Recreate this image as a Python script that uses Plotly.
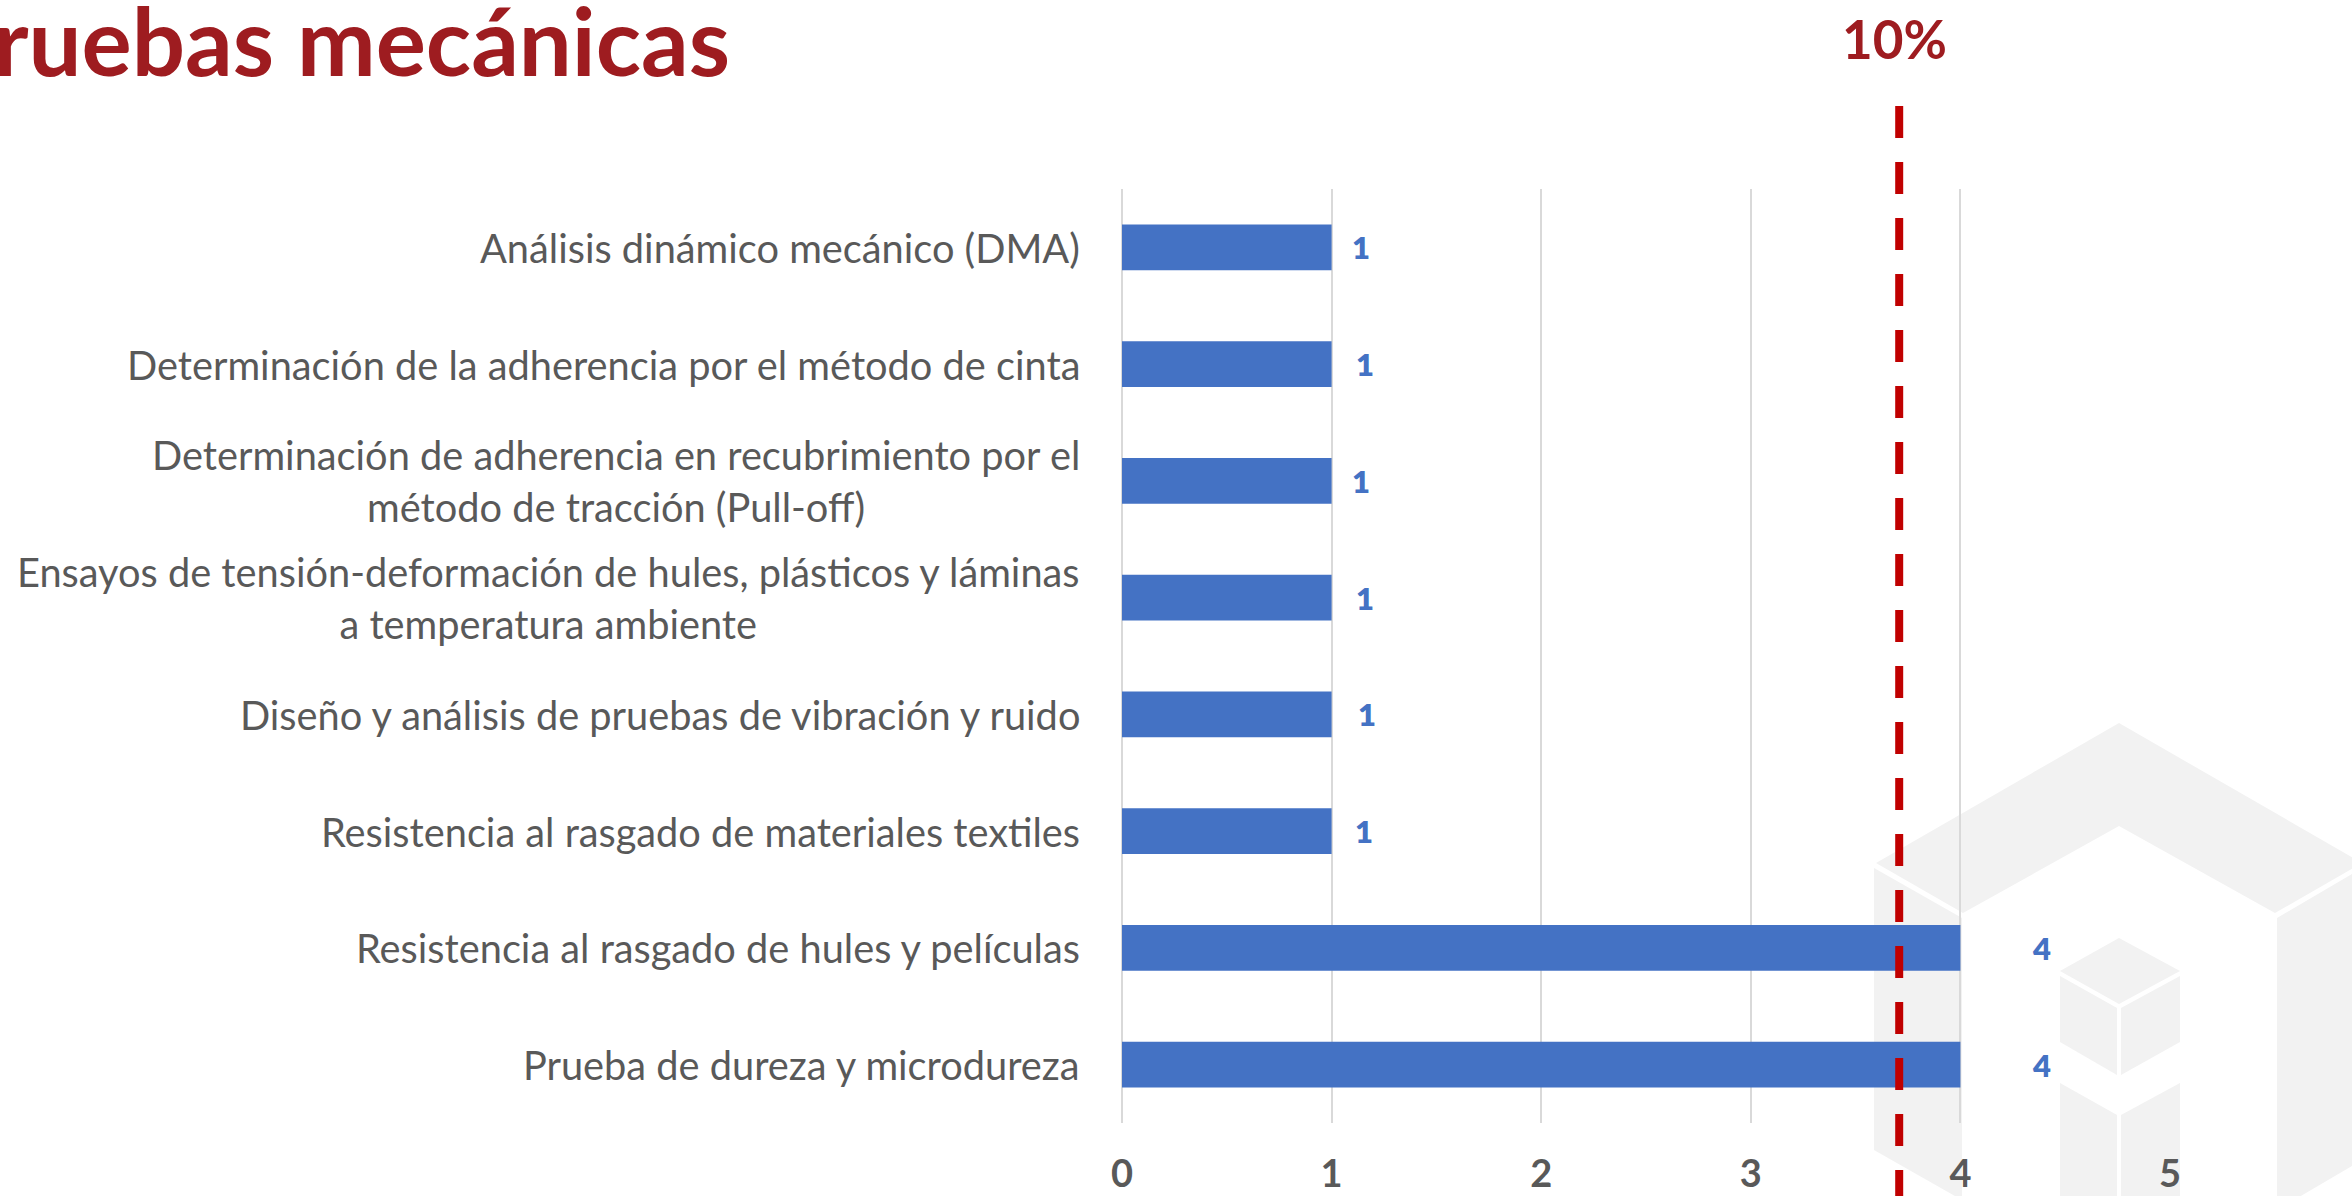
import plotly.graph_objects as go

# ---- data -------------------------------------------------------------
categorias = [
    "Análisis dinámico mecánico (DMA)",
    "Determinación de la adherencia por el método de cinta",
    "Determinación de adherencia en recubrimiento por el\nmétodo de tracción (Pull-off)",
    "Ensayos de tensión-deformación de hules, plásticos y láminas\na temperatura ambiente",
    "Diseño y análisis de pruebas de vibración y ruido",
    "Resistencia al rasgado de materiales textiles",
    "Resistencia al rasgado de hules y películas",
    "Prueba de dureza y microdureza",
]
valores = [1, 1, 1, 1, 1, 1, 4, 4]
ticks_x = [0, 1, 2, 3, 4, 5]
umbral_valor = 3.708
umbral_texto = "10%"
titulo = "Pruebas mecánicas"

# ---- styling ----------------------------------------------------------
W, H = 2352, 1196
ML, MR, MT, MB = 1122, 182, 189, 73
PW, PH = W - ML - MR, H - MT - MB

AZUL = "#4472C4"
GRIS_TXT = "#595959"
GRIS_GRID = "#D9D9D9"
ROJO_TIT = "#9E1C20"
ROJO_LINEA = "#C00000"
MARCA = "#F2F2F2"
FUENTE = "Lato"

# horizontal offset (px) of each value label from the bar end
desplaz_etiqueta = [29, 33, 29, 33, 35, 32, 81, 81]


def paper(x, y):
    """Pixel position on the canvas -> paper coordinates."""
    return (x - ML) / PW, (H - MB - y) / PH


def poligono(puntos):
    pts = [paper(x, y) for x, y in puntos]
    return "M " + " L ".join(f"{a:.5f},{b:.5f}" for a, b in pts) + " Z"


etiquetas = [c.replace("\n", "<br>") for c in categorias]

fig = go.Figure(
    go.Bar(
        x=valores,
        y=categorias,
        orientation="h",
        marker=dict(color=AZUL, line=dict(width=0)),
        hoverinfo="skip",
    )
)

# background logo made of isometric cubes (bottom right corner)
logo = [
    # hollow large cube: top chevron, left and right faces
    [(1876, 863), (2119, 723), (2362, 863), (2275, 913), (2119, 826), (1963, 913)],
    [(1874, 868), (1962, 918), (1962, 1200), (1874, 1150)],
    [(2277, 918), (2362, 868), (2362, 1160), (2277, 1210)],
    # small cube
    [(2119, 938), (2180, 971), (2119, 1004), (2060, 971)],
    [(2060, 976), (2117, 1008), (2117, 1075), (2060, 1042)],
    [(2121, 1008), (2180, 976), (2180, 1042), (2121, 1075)],
    # lower column
    [(2060, 1083), (2117, 1115), (2117, 1200), (2060, 1200)],
    [(2121, 1115), (2180, 1083), (2180, 1200), (2121, 1200)],
]
shapes = [
    dict(type="path", path=poligono(p), xref="paper", yref="paper",
         fillcolor=MARCA, line=dict(width=0), layer="below")
    for p in logo
]

# dashed reference line
shapes.append(dict(
    type="line", xref="x", yref="paper",
    x0=umbral_valor, x1=umbral_valor,
    y0=paper(0, 106)[1], y1=paper(0, 1205)[1],
    line=dict(color=ROJO_LINEA, width=8, dash="32px,24px"),
    layer="above",
))

annotations = []
# category labels, lines centred within each block
for cat, txt in zip(categorias, etiquetas):
    annotations.append(dict(
        x=0, xref="paper", y=cat, yref="y",
        xanchor="right", yanchor="middle", xshift=-40,
        text=txt, align="center", showarrow=False,
        font=dict(family=FUENTE, size=39.75, color=GRIS_TXT),
    ))

# value labels
for cat, v, dx in zip(categorias, valores, desplaz_etiqueta):
    annotations.append(dict(
        x=v, xref="x", y=cat, yref="y",
        xanchor="center", yanchor="middle", xshift=dx,
        text=str(v), showarrow=False,
        font=dict(family=FUENTE, size=31, color=AZUL, weight=800),
    ))

# threshold label
annotations.append(dict(
    x=umbral_valor, xref="x", xshift=-5,
    y=paper(0, 39)[1], yref="paper",
    xanchor="center", yanchor="middle",
    text=f"<b>{umbral_texto}</b>", showarrow=False,
    font=dict(family=FUENTE, size=53, color=ROJO_TIT),
))

# page title (runs off the left edge)
annotations.append(dict(
    x=paper(732, 0)[0], xref="paper",
    y=paper(0, 40)[1], yref="paper",
    xanchor="right", yanchor="middle",
    text=f"<b>{titulo}</b>", showarrow=False,
    font=dict(family=FUENTE, size=94, color=ROJO_TIT),
))

fig.update_layout(
    width=W, height=H,
    margin=dict(l=ML, r=MR, t=MT, b=MB, pad=0, autoexpand=False),
    paper_bgcolor="white",
    plot_bgcolor="rgba(0,0,0,0)",
    showlegend=False,
    bargap=0.606,
    shapes=shapes,
    annotations=annotations,
    xaxis=dict(
        range=[0, 5],
        tickmode="array",
        tickvals=ticks_x,
        ticktext=[str(t) for t in ticks_x],
        showgrid=True, gridcolor=GRIS_GRID, gridwidth=2,
        zeroline=True, zerolinecolor=GRIS_GRID, zerolinewidth=2,
        showline=False, ticks="",
        automargin=False,
        ticklabelstandoff=25,
        tickfont=dict(family=FUENTE, size=38, color=GRIS_TXT, weight="bold"),
        fixedrange=True,
    ),
    yaxis=dict(
        categoryorder="array", categoryarray=categorias,
        autorange="reversed",
        showticklabels=False, showgrid=False, zeroline=False,
        showline=False, ticks="",
        automargin=False,
        fixedrange=True,
    ),
)

fig.write_html("out.html", config={"displayModeBar": False})
